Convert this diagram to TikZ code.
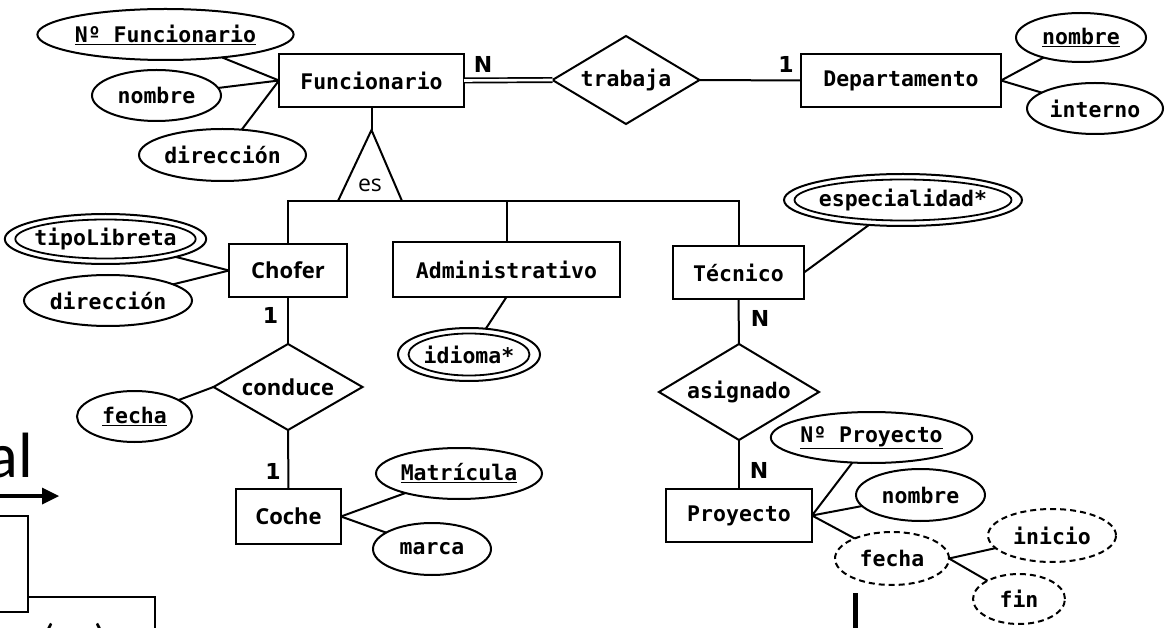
\documentclass[tikz,border=0pt]{standalone}
\usepackage{fontspec}
\usetikzlibrary{shapes.geometric,calc}
\newfontfamily\ermono{DejaVu Sans Mono}
\newfontfamily\erhum{Open Sans}
\newfontfamily\ersans{DejaVu Sans}
\newfontfamily\slidefont{Carlito}
\begin{document}
\begin{tikzpicture}[x=1pt,y=-1pt, line width=2pt,
  every node/.style={inner sep=0pt, outer sep=0pt},
  erfont/.style={font=\ermono\bfseries\fontsize{21.5}{26}\selectfont},
  humfont/.style={font=\erhum\bfseries\fontsize{22}{26}\selectfont},
  entity/.style={draw, rectangle, erfont},
  attrib/.style={draw, ellipse, erfont},
  multival/.style={attrib, path picture={
      \draw[line width=1.8pt] let \p1=(path picture bounding box.north east),
        \p2=(path picture bounding box.center) in
        (\p2) ellipse [x radius={\x1-\x2-10.5pt}, y radius={\y1-\y2-5.5pt}];}},
  derived/.style={attrib, dash pattern=on 6pt off 4pt},
  relation/.style={draw, diamond, erfont},
  card/.style={font=\ersans\bfseries\fontsize{22}{26}\selectfont},
]
\useasboundingbox (0,0) rectangle (1165,628);
\clip (0,0) rectangle (1165,628);
\fill[white] (0,0) rectangle (1165,628);

% entities
\node[entity, minimum width=185, minimum height=53] (func) at (371.5,80.5) {Funcionario};
\node[entity, minimum width=200, minimum height=53] (dept) at (901,80.5) {Departamento};
\node[entity, humfont, minimum width=118, minimum height=53] (chofer) at (288,270.5) {Chofer};
\node[entity, minimum width=227, minimum height=55] (admin) at (506.5,269.5) {Administrativo};
\node[entity, minimum width=131, minimum height=53] (tecnico) at (738.5,272.5) {Técnico};
\node[entity, humfont, minimum width=105, minimum height=55] (coche) at (288.5,516.5) {Coche};
\node[entity, minimum width=146, minimum height=53] (proyecto) at (739,515.5) {Proyecto};

% relations
\node[relation, aspect=1.66, minimum width=147, minimum height=88] (trabaja) at (626,80) {trabaja};
\node[relation, humfont, aspect=1.72, minimum width=149, minimum height=86] (conduce) at (288,387) {conduce};
\node[relation, aspect=1.65, minimum width=160, minimum height=96] (asignado) at (739,392) {asignado};

% attributes
\node[attrib, minimum width=231, minimum height=51] (nfunc) at (165.5,34.5) {\underline{Nº Funcionario}};
\node[attrib, minimum width=129, minimum height=51] (fnombre) at (156.5,95.5) {nombre};
\node[attrib, minimum width=167, minimum height=52] (fdir) at (222.5,155) {dirección};
\node[attrib, minimum width=130, minimum height=49] (dnombre) at (1081,37.5) {\underline{nombre}};
\node[attrib, minimum width=136, minimum height=51] (dinterno) at (1095,108.5) {interno};
\node[multival, minimum width=193, minimum height=50] (tipo) at (105.5,239) {tipoLibreta};
\node[attrib, minimum width=168, minimum height=51] (cdir) at (108,300.5) {dirección};
\node[multival, minimum width=142, minimum height=53] (idioma) at (469,354.5) {idioma*};
\node[multival, minimum width=218, minimum height=52] (espec) at (903,200) {especialidad*};
\node[attrib, minimum width=115, minimum height=51] (cfecha) at (134.5,416.5) {\underline{fecha}};
\node[attrib, minimum width=166, minimum height=51] (matric) at (459,473.5) {\underline{Matrícula}};
\node[attrib, minimum width=118, minimum height=52] (marca) at (432,549) {marca};
\node[attrib, minimum width=191, minimum height=51] (npro) at (871.5,437.5) {\underline{Nº Proyecto}};
\node[attrib, minimum width=129, minimum height=52] (pnombre) at (920.5,495) {nombre};
\node[derived, minimum width=114, minimum height=53] (pfecha) at (892,558.5) {fecha};
\node[derived, minimum width=128, minimum height=53] (inicio) at (1052,535.5) {inicio};
\node[derived, minimum width=92, minimum height=50] (fin) at (1019,599) {fin};

% attribute connectors
\draw (nfunc) -- (func.west);
\draw (fnombre) -- (func.west);
\draw (fdir) -- (func.west);
\draw (dnombre) -- (dept.east);
\draw (dinterno) -- (dept.east);
\draw (tipo) -- (chofer.west);
\draw (cdir) -- (chofer.west);
\draw (idioma) -- (admin.south);
\draw (espec) -- (tecnico.east);
\draw (cfecha) -- (conduce.west);
\draw (matric) -- (coche.east);
\draw (marca) -- (coche.east);
\draw (npro) -- (proyecto.east);
\draw (pnombre) -- (proyecto.east);
\draw (pfecha) -- (proyecto.east);
\draw (inicio) -- (pfecha.east);
\draw (fin) -- (pfecha.east);

% relationship connectors
\draw[double, double distance=2.6pt, line width=1.7pt] (func.east) -- (trabaja.west);
\draw (trabaja.east) -- (dept.west);
\draw (chofer.south) -- (conduce.north);
\draw (conduce.south) -- (coche.north);
\draw (tecnico.south) -- (asignado.north);
\draw (asignado.south) -- (proyecto.north);

% cardinalities
\node[card] (cN1) at (483,64.5) {N};
\node[card] (c11) at (786,64.5) {1};
\node[card] (c12) at (270.5,315.5) {1};
\node[card] (c13) at (273,471) {1};
\node[card] (cN2) at (760,318.5) {N};
\node[card] (cN3) at (759,470) {N};

% ISA
\coordinate (apex) at (371.5,130);
\coordinate (isaL) at (338,201);
\coordinate (isaR) at (402,201);
\coordinate (bar) at (0,201);
\draw (func.south) -- (apex);
\draw (isaL) -- (apex) -- (isaR);
\draw (chofer.north) -- (chofer.north |- bar) -- (tecnico.north |- bar) -- (tecnico.north);
\draw (admin.north) -- (admin.north |- bar);
\node[font=\erhum\fontsize{23}{27}\selectfont] (es) at (370,185) {es};

% background slide fragments
\node[font=\slidefont\fontsize{64}{70}\selectfont, anchor=base east] (al) at (33,477) {al};
\draw[line width=4pt] (-5,496) -- (44,496);
\fill (42,487.5) -- (59,496) -- (42,504.5) -- cycle;
\draw[line width=1.3pt] (-5,516) -- (28,516) -- (28,612) -- (-5,612);
\draw[line width=1.3pt] (28,597) -- (155,597) -- (155,640);
\node[font=\slidefont\fontsize{40}{44}\selectfont, anchor=base] (paren) at (75,652) {(\hspace{40pt})};
\fill (853,593) rectangle (858,640);
\end{tikzpicture}
\end{document}
